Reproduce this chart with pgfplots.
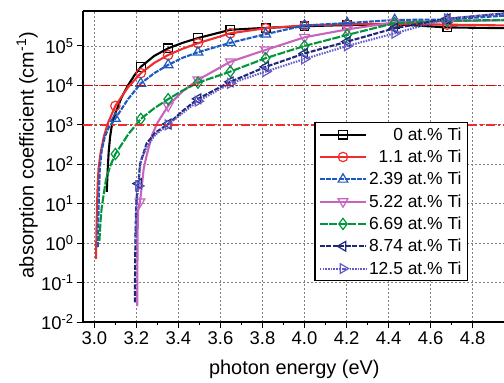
\documentclass[border=0pt]{standalone}
\usepackage{fontspec}
\setmainfont{Liberation Sans}
\usepackage{pgfplots}
\pgfplotsset{compat=1.18}
\definecolor{cred}{RGB}{240,45,45}
\definecolor{cblue}{RGB}{30,90,190}
\definecolor{cpink}{RGB}{200,100,190}
\definecolor{cgreen}{RGB}{0,150,60}
\definecolor{cnavy}{RGB}{30,40,120}
\definecolor{cpurple}{RGB}{100,90,200}
\begin{document}
\begin{tikzpicture}
\begin{axis}[
  scale only axis, width=421bp, height=311bp,
  xmin=2.946, xmax=4.949,
  ymode=log, log basis y=10, ymin=1e-2, ymax=7.7e5,
  axis x line*=box, axis y line*=left,
  axis line style={-, line width=1.2bp},
  xtick={3,3.2,3.4,3.6,3.8,4,4.2,4.4,4.6,4.8},
  minor x tick num=1,
  ytick={1e-2,1e-1,1,10,100,1e3,1e4,1e5},
  xtick pos=bottom, ytick pos=left,
  tick align=outside,
  major tick length=6bp, minor tick length=3.5bp,
  every tick/.style={black, line width=1bp},
  grid=major,
  major grid style={gray, dash pattern=on 2bp off 2bp, line width=0.7bp},
  /pgf/number format/assume math mode=true,
  xticklabel style={/pgf/number format/.cd, fixed, fixed zerofill, precision=1},
  log number format basis/.code 2 args={#1\textsuperscript{\pgfmathprintnumber{#2}}},
  tick label style={font=\fontsize{18.5}{20}\selectfont},
  label style={font=\fontsize{20}{22}\selectfont},
  xlabel={photon energy (eV)},
  ylabel={absorption coefficient (cm\textsuperscript{-1})},
  xlabel style={at={(axis description cs:0.502,0)}, anchor=north, yshift=-38bp, inner sep=0pt},
  ylabel style={at={(axis description cs:0,0.537)}, anchor=south, yshift=45bp, inner sep=0pt},
  clip marker paths=true,
  legend style={at={(0.9145,0.643)}, anchor=north east, font=\fontsize{17.5}{19}\selectfont,
    draw=black, line width=1.2bp, inner xsep=4bp, inner ysep=3bp, row sep=4.2bp},
  legend cell align=right,
  legend image code/.code={\draw[mark repeat=2,mark phase=2,#1,mark indices={2}] plot coordinates {(0bp,0bp) (23bp,0bp) (46bp,0bp)};},
]
\addplot[black, line width=2.1bp, mark=square, mark size=4.3bp, mark options={solid, fill=white, line width=1.2bp},
  mark indices={10,12,14,15,16,17,18,19,20,21}] coordinates {
(3.059,20) (3.063,63) (3.068,200) (3.075,501) (3.085,1122) (3.1,1995) (3.13,5012) (3.16,10000) (3.19,17783) (3.221,29512) (3.285,56000) (3.351,87096) (3.42,120000) (3.493,158489) (3.647,257040) (3.815,288000) (4.0,316228) (4.203,338844) (4.429,354813) (4.679,295121) (4.96,281838)};
\addlegendentry{0 at.\% Ti}

\addplot[cred, line width=2.1bp, mark=o, mark size=4.7bp, mark options={solid, fill=white, line width=1.2bp},
  mark indices={9,11,13,15,16,17,18,19,20,21,22}] coordinates {
(3.008,0.398) (3.010,2.0) (3.013,10) (3.016,31.6) (3.02,79.4) (3.03,200) (3.045,501) (3.065,1122) (3.1,3020) (3.16,8913) (3.221,20417) (3.285,37154) (3.351,58884) (3.42,85000) (3.493,117490) (3.647,208930) (3.815,281838) (4.0,331131) (4.203,354813) (4.429,363078) (4.679,346737) (4.96,331131)};
\addlegendentry{1.1 at.\% Ti}

\addplot[cblue, line width=2.1bp, dash pattern=on 5bp off 1.2bp, mark=triangle, mark size=5.6bp, mark options={solid, fill=white, line width=1.2bp},
  mark indices={8,10,12,14,15,16,17,18,19,20,21}] coordinates {
(3.017,0.794) (3.019,3.98) (3.022,20) (3.026,79.4) (3.035,224) (3.05,501) (3.07,891) (3.1,1445) (3.16,4467) (3.221,11220) (3.285,20417) (3.351,33113) (3.42,50119) (3.493,69183) (3.647,120226) (3.815,199526) (4.0,331131) (4.203,380189) (4.429,457088) (4.679,467735) (4.96,588844)};
\addlegendentry{2.39 at.\% Ti}

\addplot[cpink, line width=2.1bp, mark=triangle, mark size=5.6bp, mark options={solid, fill=white, line width=1.2bp, rotate=180},
  mark indices={5,11,13,14,15,16,17,18,19,20}] coordinates {
(3.204,0.0251) (3.205,0.316) (3.206,2.0) (3.208,6.31) (3.217,11.2) (3.225,25) (3.235,79) (3.25,178) (3.275,562) (3.3,1122) (3.351,3020) (3.42,7079) (3.493,13804) (3.647,39811) (3.815,79433) (4.0,165959) (4.203,263027) (4.429,398107) (4.679,426580) (4.96,446684)};
\addlegendentry{5.22 at.\% Ti}

\addplot[cgreen, line width=2.1bp, dash pattern=on 8bp off 1.5bp, mark=diamond, mark size=5.6bp, mark options={solid, fill=white, line width=1.2bp},
  mark indices={7,9,11,13,14,15,16,17,18,19,20}] coordinates {
(3.024,1.12) (3.03,3.98) (3.035,7.94) (3.042,14.1) (3.055,39.8) (3.075,89.1) (3.1,182) (3.16,562) (3.221,1413) (3.285,2630) (3.351,4467) (3.42,7413) (3.493,11749) (3.647,22387) (3.815,48978) (4.0,100000) (4.203,190546) (4.429,380189) (4.679,436516) (4.96,457088)};
\addlegendentry{6.69 at.\% Ti}

\addplot[cnavy, line width=2.1bp, dash pattern=on 5bp off 1.5bp, mark=triangle, mark size=5.6bp, mark options={solid, fill=white, line width=1.2bp, rotate=90},
  mark indices={6,10,12,13,14,15,16,17,18,19}] coordinates {
(3.193,0.0316) (3.194,0.316) (3.196,2.0) (3.199,7.94) (3.203,20) (3.21,32.4) (3.217,100) (3.249,339) (3.29,631) (3.351,1047) (3.42,2239) (3.493,4571) (3.647,12303) (3.815,29512) (4.0,64565) (4.203,128825) (4.429,281838) (4.679,489779) (4.96,676083)};
\addlegendentry{8.74 at.\% Ti}

\addplot[cpurple, line width=2.1bp, dash pattern=on 1.5bp off 1.2bp, mark=triangle, mark size=5.6bp, mark options={solid, fill=white, line width=1.2bp, rotate=-90},
  mark indices={4,9,11,12,13,14,15,16,17,18}] coordinates {
(3.197,1.0) (3.2,6.31) (3.205,15.8) (3.21,28.2) (3.217,79.4) (3.225,141) (3.25,282) (3.29,562) (3.351,1000) (3.42,1995) (3.493,3981) (3.647,11220) (3.815,22387) (4.0,46774) (4.203,100000) (4.429,208930) (4.679,489779) (4.96,676083)};
\addlegendentry{12.5 at.\% Ti}

\addplot[red!85!black, line width=1.6bp, dash pattern=on 9bp off 3bp on 2.5bp off 3bp, forget plot] coordinates {(2.95,1e4) (3.5,1e4) (4.0,1e4) (4.945,1e4)};
\addplot[cred, line width=1.6bp, dash pattern=on 9bp off 3bp on 2.5bp off 3bp, forget plot] coordinates {(2.946,1000) (4.949,1000)};
\end{axis}
\pgfresetboundingbox
\path (current axis.south west) ++(-83bp,-61bp) rectangle ++(504bp,383bp);
\end{tikzpicture}
\end{document}
